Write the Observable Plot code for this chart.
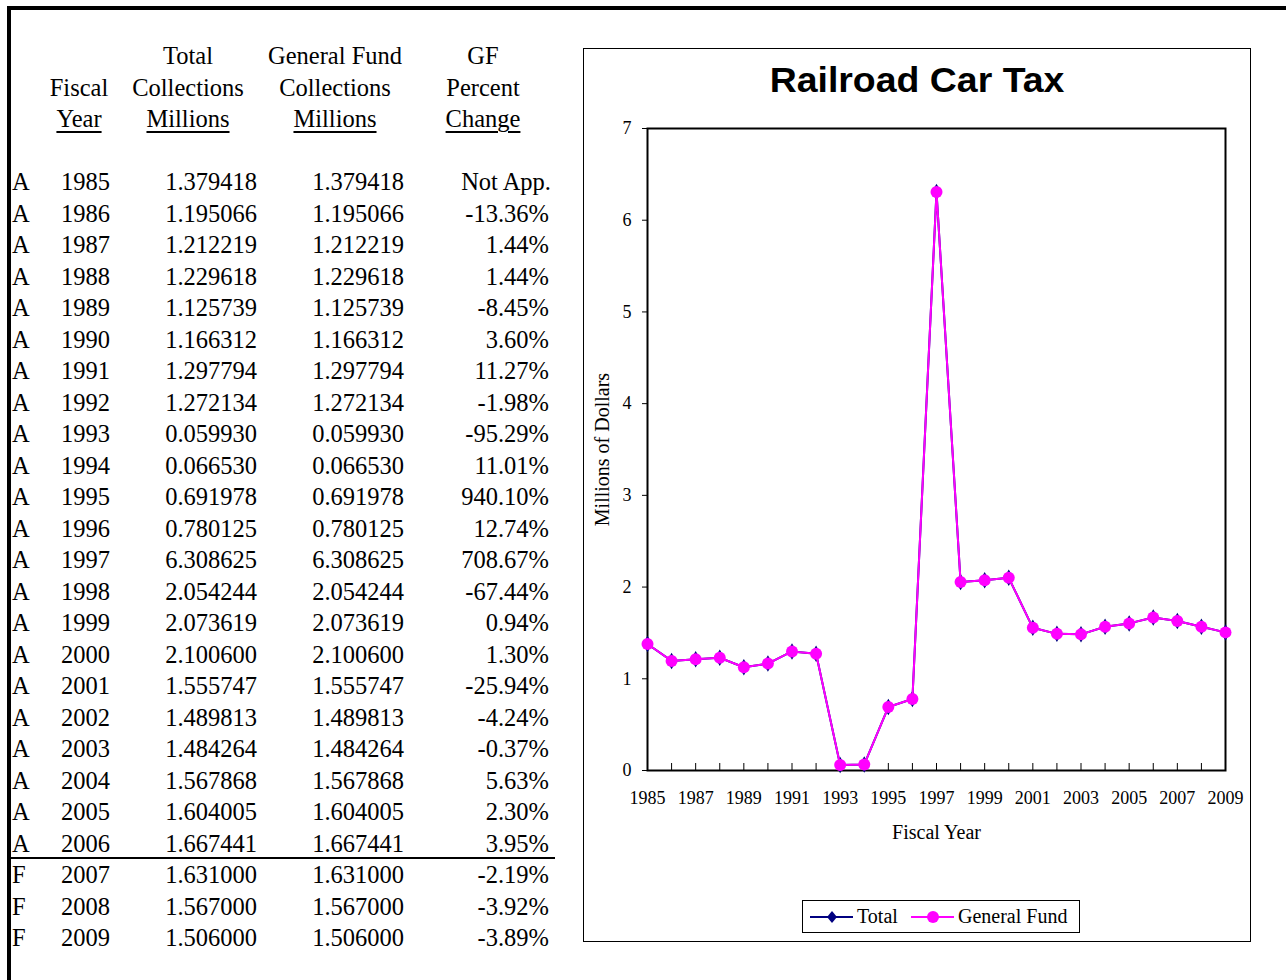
<!DOCTYPE html>
<html>
<head>
<meta charset="utf-8">
<script src="https://cdn.jsdelivr.net/npm/d3@7"></script>
<script src="https://cdn.jsdelivr.net/npm/@observablehq/plot@0.6"></script>
<style>
  html, body { margin: 0; padding: 0; background: #fff; }
  body { width: 1286px; height: 980px; position: relative; overflow: hidden; font-family: "Liberation Serif", "Times New Roman", serif; }
  .pageframe { position: absolute; left: 7px; top: 6px; width: 1290px; height: 990px; border-top: 4px solid #000; border-left: 4px solid #000; }
  .cell { position: absolute; font-size: 24.5px; line-height: 31.5px; height: 31.5px; white-space: nowrap; color: #000; }
  .u { text-decoration: underline; text-decoration-thickness: 2px; text-underline-offset: 4px; }
  .sep { position: absolute; left: 8px; width: 547px; top: 857px; height: 0; border-top: 2px solid #000; }
  .chartbox { position: absolute; left: 583px; top: 48px; width: 666px; height: 892px; border: 1.5px solid #000; }
  #plot { position: absolute; left: 583px; top: 48px; }
  .title { position: absolute; left: 617px; width: 600px; top: 58px; text-align: center; font-family: "Liberation Sans", Arial, sans-serif; font-weight: bold; font-size: 34.5px; line-height: 44px; transform: scaleX(1.085); transform-origin: 300px 0; }
  .legend { position: absolute; left: 802px; top: 900px; width: 276px; height: 31px; border: 1px solid #000; background: #fff; font-size: 20px; }
  .legend svg { position: absolute; left: 0; top: 0; }
  .legend .lt { position: absolute; top: 0; line-height: 31px; white-space: nowrap; }
</style>
</head>
<body>
<div class="pageframe"></div>
<div id="table"></div>
<div class="sep"></div>
<div class="chartbox"></div>
<div id="plot"></div>
<div class="title">Railroad Car Tax</div>
<div class="legend">
  <svg width="276" height="31">
    <line x1="7" x2="50" y1="16" y2="16" stroke="#000080" stroke-width="2"></line>
    <path d="M29,10 L34,16 L29,22 L24,16 Z" fill="#000080"></path>
    <line x1="108" x2="151" y1="16" y2="16" stroke="#FF00FF" stroke-width="2"></line>
    <circle cx="130" cy="16" r="6" fill="#FF00FF"></circle>
  </svg>
  <span class="lt" style="left:54px">Total</span>
  <span class="lt" style="left:155px">General Fund</span>
</div>
<script>
// ---- data ----
const status = ["A","A","A","A","A","A","A","A","A","A","A","A","A","A","A","A","A","A","A","A","A","A","F","F","F"];
const years = [1985,1986,1987,1988,1989,1990,1991,1992,1993,1994,1995,1996,1997,1998,1999,2000,2001,2002,2003,2004,2005,2006,2007,2008,2009];
const totalCollections = [1.379418,1.195066,1.212219,1.229618,1.125739,1.166312,1.297794,1.272134,0.059930,0.066530,0.691978,0.780125,6.308625,2.054244,2.073619,2.100600,1.555747,1.489813,1.484264,1.567868,1.604005,1.667441,1.631000,1.567000,1.506000];
const gfCollections = [1.379418,1.195066,1.212219,1.229618,1.125739,1.166312,1.297794,1.272134,0.059930,0.066530,0.691978,0.780125,6.308625,2.054244,2.073619,2.100600,1.555747,1.489813,1.484264,1.567868,1.604005,1.667441,1.631000,1.567000,1.506000];
const gfPercentChange = ["Not App.","-13.36%","1.44%","1.44%","-8.45%","3.60%","11.27%","-1.98%","-95.29%","11.01%","940.10%","12.74%","708.67%","-67.44%","0.94%","1.30%","-25.94%","-4.24%","-0.37%","5.63%","2.30%","3.95%","-2.19%","-3.92%","-3.89%"];
const headerLines = [
  ["", "Total", "General Fund", "GF"],
  ["Fiscal", "Collections", "Collections", "Percent"],
  ["Year", "Millions", "Millions", "Change"]
];
const yTicks = [0,1,2,3,4,5,6,7];
const xLabelTicks = [1985,1987,1989,1991,1993,1995,1997,1999,2001,2003,2005,2007,2009];

// ---- table ----
const tbl = document.getElementById("table");
function cell(text, x, cy, align, extraClass) {
  const d = document.createElement("div");
  d.className = "cell";
  const s = document.createElement("span");
  if (extraClass) s.className = extraClass;
  s.textContent = text;
  d.appendChild(s);
  d.style.top = (cy - 15.75) + "px";
  if (align === "left") { d.style.left = x + "px"; }
  else if (align === "right") { d.style.left = (x - 240) + "px"; d.style.width = "240px"; d.style.textAlign = "right"; }
  else { d.style.left = (x - 150) + "px"; d.style.width = "300px"; d.style.textAlign = "center"; }
  tbl.appendChild(d);
}
const headerCx = [79, 188, 335, 483];
const headerCy = [56, 88, 119];
headerLines.forEach((line, r) => {
  line.forEach((t, c) => { if (t) cell(t, headerCx[c], headerCy[r], "center", r === 2 ? "u" : ""); });
});
years.forEach((y, i) => {
  const cy = 182 + i * 31.5;
  cell(status[i], 12, cy, "left");
  cell(String(y), 61, cy, "left");
  cell(totalCollections[i].toFixed(6), 257, cy, "right");
  cell(gfCollections[i].toFixed(6), 404, cy, "right");
  cell(gfPercentChange[i], gfPercentChange[i] === "Not App." ? 551 : 549, cy, "right");
});

// ---- chart ----
const data = years.map((y, i) => ({year: y, total: totalCollections[i], gf: gfCollections[i]}));
const chart = Plot.plot({
  width: 668,
  height: 894,
  marginLeft: 64,
  marginRight: 26,
  marginTop: 80,
  marginBottom: 172,
  style: {fontFamily: "'Liberation Serif', 'Times New Roman', serif", fontSize: "18px", background: "transparent", color: "#000"},
  x: {domain: [1985, 2009]},
  y: {domain: [0, 7]},
  marks: [
    Plot.axisY({ticks: yTicks, tickSize: 5, tickPadding: 11, tickFormat: d => String(d), label: null, fontSize: 18}),
    Plot.axisX({ticks: years, tickSize: -7, tickFormat: () => "", label: null}),
    Plot.axisX({ticks: xLabelTicks, tickSize: 0, tickPadding: 21, tickFormat: d => String(d), label: null, fontSize: 18}),
    Plot.frame({stroke: "#000", strokeWidth: 2}),
    Plot.text(["Millions of Dollars"], {frameAnchor: "left", textAnchor: "middle", lineAnchor: "middle", dx: -45, rotate: -90, fontSize: 20}),
    Plot.text(["Fiscal Year"], {frameAnchor: "bottom", textAnchor: "middle", lineAnchor: "middle", dy: 62, fontSize: 20}),
    Plot.line(data, {x: "year", y: "total", stroke: "#000080", strokeWidth: 2}),
    Plot.dot(data, {x: "year", y: "total", symbol: "diamond", r: 5, fill: "#000080"}),
    Plot.line(data, {x: "year", y: "gf", stroke: "#FF00FF", strokeWidth: 2}),
    Plot.dot(data, {x: "year", y: "gf", r: 6, fill: "#FF00FF"})
  ]
});
document.getElementById("plot").appendChild(chart);
</script>
</body>
</html>
